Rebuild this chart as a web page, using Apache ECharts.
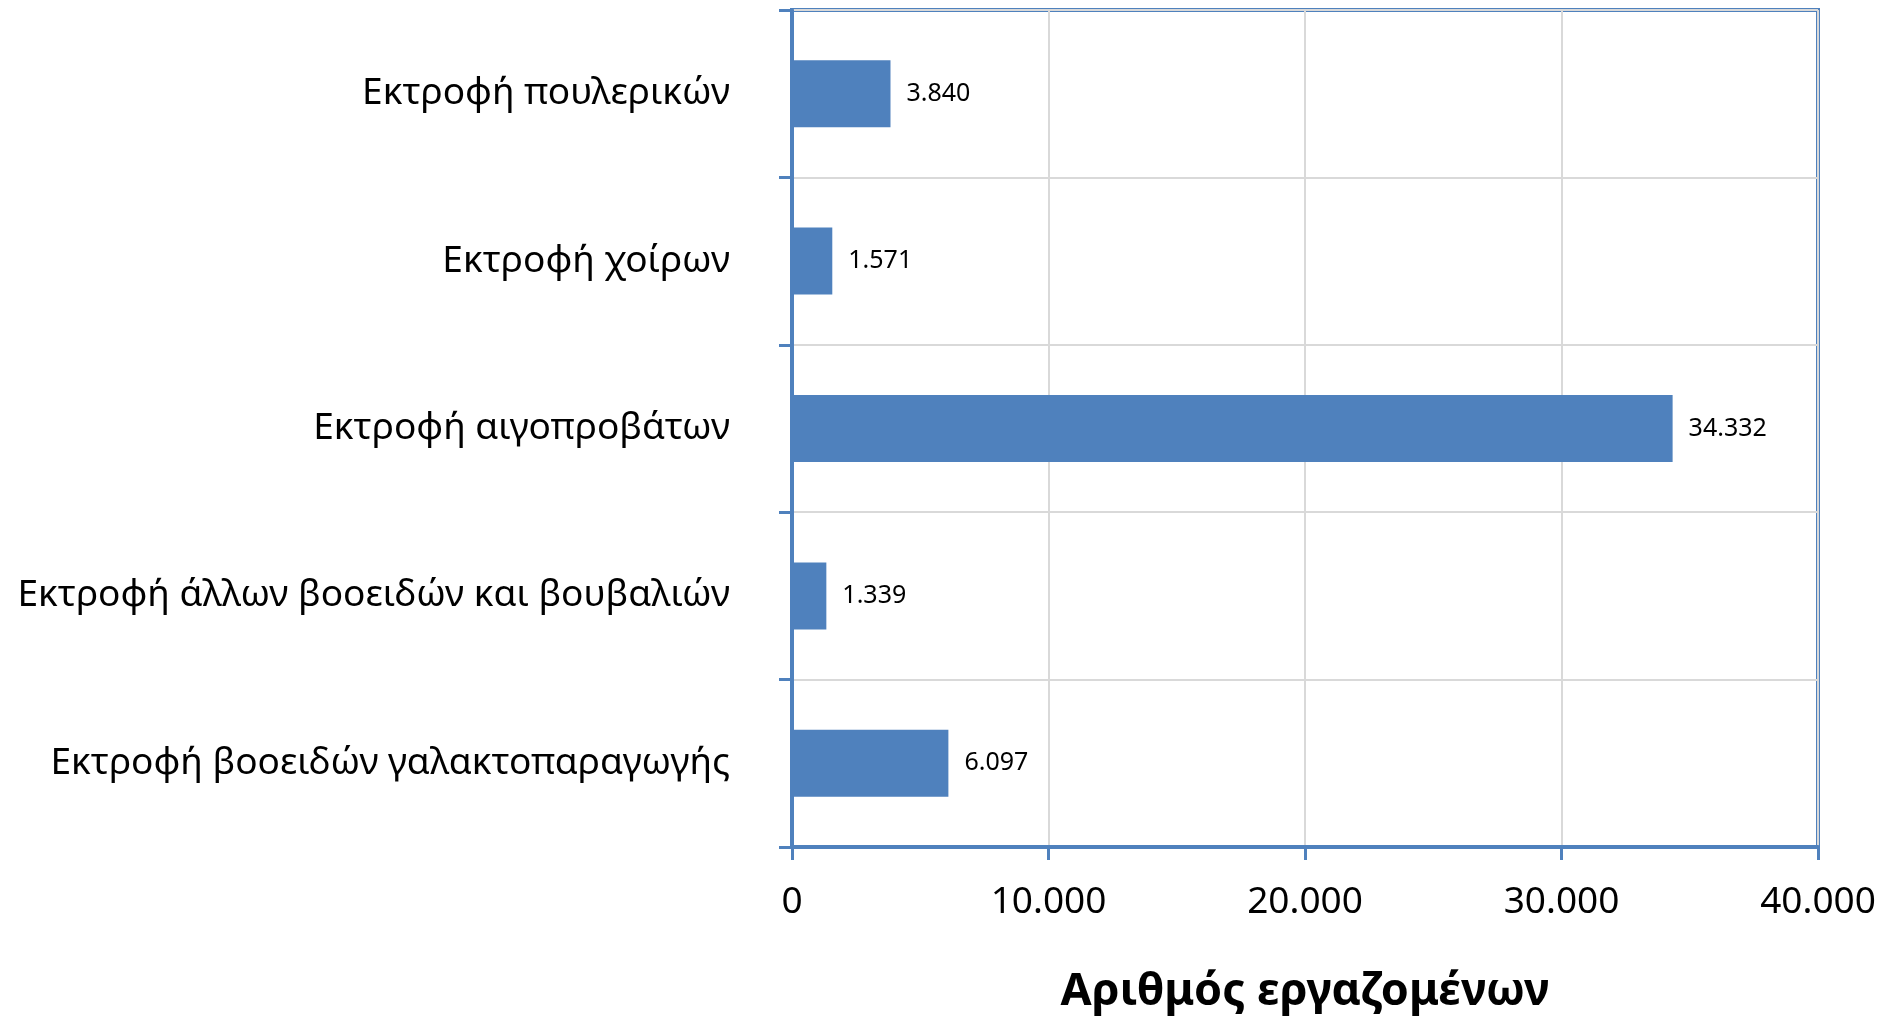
<!DOCTYPE html>
<html>
<head>
<meta charset="utf-8">
<script src="https://cdn.jsdelivr.net/npm/echarts@6/dist/echarts.min.js"></script>
<style>
  html, body { margin: 0; padding: 0; background: #fff; }
  #chart { width: 1883px; height: 1018px; }
</style>
</head>
<body>
<div id="chart"></div>
<script>
// Employment by livestock activity (bottom-to-top order on the category axis)
const categories = [
  'Εκτροφή βοοειδών γαλακτοπαραγωγής',
  'Εκτροφή άλλων βοοειδών και βουβαλιών',
  'Εκτροφή αιγοπροβάτων',
  'Εκτροφή χοίρων',
  'Εκτροφή πουλερικών'
];
const employees = [6097, 1339, 34332, 1571, 3840];
const axisTitle = 'Αριθμός εργαζομένων';
const xMin = 0, xMax = 40000, xStep = 10000;

// Greek thousands separator: 34332 -> 34.332
function fmt(v) {
  return String(Math.round(v)).replace(/\B(?=(\d{3})+(?!\d))/g, '.');
}

const blue = '#4f81bd';
const font = '"Noto Sans", sans-serif';

const chart = echarts.init(document.getElementById('chart'));
chart.setOption({
  animation: false,
  grid: {
    left: 792, right: 65, top: 10, bottom: 171,
    outerBoundsMode: 'none',
    containLabel: false,
    show: true, borderColor: blue, borderWidth: 4, backgroundColor: 'transparent'
  },
  xAxis: {
    type: 'value',
    min: xMin, max: xMax, interval: xStep,
    name: axisTitle,
    nameLocation: 'middle',
    nameGap: 123,
    nameTextStyle: { fontFamily: font, fontSize: 45, fontWeight: 'bold', color: '#000' },
    axisLine: { show: true, lineStyle: { color: blue, width: 4 } },
    axisTick: { show: true, length: 13, lineStyle: { color: blue, width: 3 } },
    axisLabel: { margin: 37, fontFamily: font, fontSize: 37, color: '#000', formatter: fmt },
    splitLine: { show: true, lineStyle: { color: '#d9d9d9', width: 2 } }
  },
  yAxis: {
    type: 'category',
    data: categories,
    axisLine: { show: true, lineStyle: { color: blue, width: 4 } },
    axisTick: { show: true, length: 13, lineStyle: { color: blue, width: 3 } },
    axisLabel: { margin: 62, fontFamily: font, fontSize: 37, color: '#000' },
    splitLine: { show: true, lineStyle: { color: '#d9d9d9', width: 2 } }
  },
  series: [{
    type: 'bar',
    data: employees,
    barWidth: '40%',
    itemStyle: { color: blue },
    label: {
      show: true, position: 'right', distance: 16,
      fontFamily: font, fontSize: 25, color: '#000',
      formatter: p => fmt(p.value)
    }
  }]
});
</script>
</body>
</html>
